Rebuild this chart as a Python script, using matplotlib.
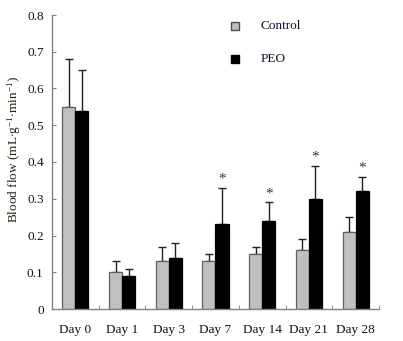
import matplotlib
matplotlib.use("Agg")
import matplotlib.pyplot as plt
import numpy as np

plt.rcParams['font.family'] = ['Liberation Serif', 'DejaVu Serif']
plt.rcParams['mathtext.fontset'] = 'custom'
plt.rcParams['mathtext.rm'] = 'Liberation Serif'
plt.rcParams['mathtext.it'] = 'Liberation Serif:italic'

days = ['Day 0', 'Day 1', 'Day 3', 'Day 7', 'Day 14', 'Day 21', 'Day 28']
control = [0.55, 0.10, 0.13, 0.13, 0.15, 0.16, 0.21]
control_err = [0.13, 0.03, 0.04, 0.02, 0.02, 0.03, 0.04]
peo = [0.54, 0.09, 0.14, 0.23, 0.24, 0.30, 0.32]
peo_err = [0.11, 0.02, 0.04, 0.10, 0.05, 0.09, 0.04]
significant = [False, False, False, True, True, True, True]

fig = plt.figure(figsize=(4.03, 3.41), dpi=100)
ax = fig.add_axes([52 / 403, 32 / 341, 327 / 403, 294 / 341])

x = np.arange(len(days)) + 0.5
w = 0.28
ax.bar(x - w / 2, control, w, color='#c0c0c0', edgecolor='#606060', linewidth=0.9, zorder=2)
ax.bar(x + w / 2, peo, w, color='black', edgecolor='black', linewidth=0.9, zorder=2)
ax.errorbar(x - w / 2, control, yerr=[np.zeros(len(days)), control_err], fmt='none',
            ecolor='#222222', elinewidth=1.0, capsize=3, capthick=1.0, zorder=1)
ax.errorbar(x + w / 2, peo, yerr=[np.zeros(len(days)), peo_err], fmt='none',
            ecolor='#222222', elinewidth=1.0, capsize=3, capthick=1.0, zorder=1)

for xi, v, e, s in zip(x, peo, peo_err, significant):
    if s:
        ax.annotate('*', (xi + w / 2, v + e), xytext=(0, 6), textcoords='offset points',
                    ha='center', va='center', fontsize=11, color='#333344')

ax.set_xlim(0, len(days))
ax.set_ylim(0, 0.8)
ax.set_yticks(np.arange(0, 0.81, 0.1))
ax.set_yticklabels(['0', '0.1', '0.2', '0.3', '0.4', '0.5', '0.6', '0.7', '0.8'])
ax.set_xticks(x)
ax.set_xticklabels(days)
ax.set_xticks(np.arange(1, len(days) + 1), minor=True)
ax.tick_params(axis='x', which='major', length=0, pad=11, labelsize=9.5, labelcolor='#111122')
ax.tick_params(axis='x', which='minor', direction='in', length=3, color='#808080')
ax.tick_params(axis='y', direction='in', length=3, color='#808080', pad=6, labelsize=9.5,
               labelcolor='#111122')

for side in ('top', 'right'):
    ax.spines[side].set_visible(False)
for side in ('left', 'bottom'):
    ax.spines[side].set_color('#808080')
    ax.spines[side].set_linewidth(1.0)

ax.set_ylabel(r'Blood flow (mL$\cdot$g$^{-1}$$\cdot$min$^{-1}$)', fontsize=9.5, color='#2a1f1a')
ax.yaxis.set_label_coords(-0.089, 0.544)

# legend drawn as markers with labels
ax.plot([0.56], [0.963], marker='s', markersize=6, markerfacecolor='#c0c0c0',
        markeredgecolor='#505050', transform=ax.transAxes, clip_on=False)
ax.plot([0.56], [0.85], marker='s', markersize=6, markerfacecolor='black',
        markeredgecolor='black', transform=ax.transAxes, clip_on=False)
ax.text(0.637, 0.963, 'Control', transform=ax.transAxes, va='center', fontsize=9.5, color='#10102a')
ax.text(0.637, 0.85, 'PEO', transform=ax.transAxes, va='center', fontsize=9.5, color='#10102a')

fig.savefig('out.png', dpi=100)
